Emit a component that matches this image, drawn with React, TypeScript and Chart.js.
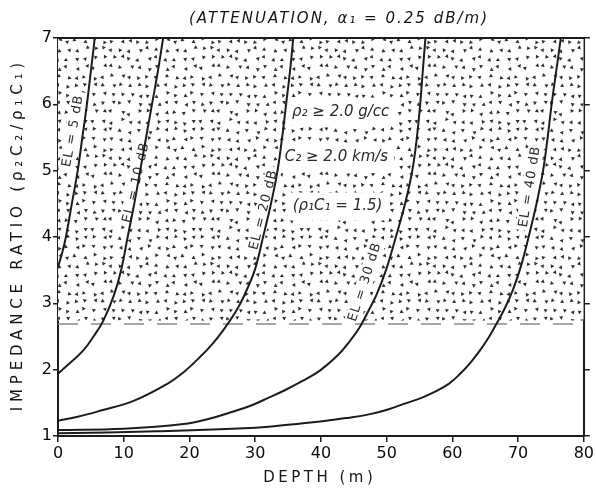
import { useEffect, useRef } from 'react';
import { Chart, registerables } from 'chart.js';

Chart.register(...registerables);

// ---- data ----
const depthTicks = [0, 10, 20, 30, 40, 50, 60, 70, 80];
const ratioTicks = [1, 2, 3, 4, 5, 6, 7];

const el5Depth = [0, 0.6, 1.2, 2.1, 3.0, 3.7, 4.4, 5.0, 5.6];
const el5Ratio = [3.55, 3.75, 4.0, 4.5, 5.0, 5.5, 6.0, 6.5, 7.0];

const el10Depth = [0, 1.6, 3.85, 5.4, 6.9, 8.5, 9.6, 10.6, 11.6, 12.5, 13.4, 14.3, 15.2, 16.0];
const el10Ratio = [1.94, 2.08, 2.29, 2.5, 2.74, 3.12, 3.5, 4.0, 4.5, 5.0, 5.5, 6.0, 6.5, 7.0];

const el20Depth = [0, 3, 6.4, 11.5, 16.5, 19.2, 21.6, 23.5, 25.1, 26.5, 27.7, 28.8, 30.0, 31.2, 32.4, 33.4, 34.1, 34.7, 35.3, 35.8];
const el20Ratio = [1.23, 1.29, 1.38, 1.53, 1.78, 1.97, 2.19, 2.39, 2.59, 2.79, 2.99, 3.22, 3.52, 4.0, 4.5, 5.0, 5.5, 6.0, 6.5, 7.0];

const el30Depth = [0, 10, 19.1, 23, 26.7, 29.4, 31.9, 34.5, 37.2, 39.9, 42.6, 44.4, 45.9, 47.3, 48.5, 49.9, 51.4, 52.8, 53.9, 54.6, 55.1, 55.5, 55.9];
const el30Ratio = [1.09, 1.11, 1.18, 1.26, 1.37, 1.46, 1.57, 1.69, 1.83, 1.99, 2.22, 2.43, 2.64, 2.9, 3.14, 3.5, 4.0, 4.5, 5.0, 5.5, 6.0, 6.5, 7.0];

const el40Depth = [0, 15, 29.2, 35, 39.9, 43.8, 47.5, 50.2, 52.5, 55.2, 57.6, 59.5, 61.1, 62.7, 64.2, 65.5, 66.7, 68.0, 69.2, 70.4, 71.6, 72.8, 73.8, 74.5, 75.1, 75.8, 76.5];
const el40Ratio = [1.04, 1.07, 1.12, 1.17, 1.22, 1.27, 1.33, 1.4, 1.48, 1.57, 1.68, 1.79, 1.93, 2.1, 2.29, 2.48, 2.69, 2.93, 3.2, 3.55, 4.0, 4.5, 5.0, 5.5, 6.0, 6.5, 7.0];

const boundaryRatio = 2.69;
const stippleTop = 7;
const stippleBottom = 2.74;

const curveLabelText = ['EL = 5 dB', 'EL = 10 dB', 'EL = 20 dB', 'EL = 30 dB', 'EL = 40 dB'];
const curveLabelDepth = [2.3, 11.9, 31.3, 46.7, 71.8];
const curveLabelRatio = [5.6, 4.82, 4.41, 3.32, 4.76];
const curveLabelAngle = [-80, -77, -76, -72, -81];

const noteText = ['ρ₂ ≥ 2.0 g/cc', 'C₂ ≥ 2.0 km/s', '(ρ₁C₁ = 1.5)'];
const noteDepth = [35.6, 34.5, 35.7];
const noteRatio = [5.89, 5.2, 4.46];

const titleText = '(ATTENUATION, α₁ = 0.25 dB/m)';
const xTitleText = 'DEPTH (m)';
const yTitleText = 'IMPEDANCE RATIO (ρ₂C₂/ρ₁C₁)';

const FONT = '"DejaVu Sans", sans-serif';
const INK = '#1c1c1c';

const toPts = (xs: number[], ys: number[]) => xs.map((x, i) => ({ x, y: ys[i] }));

function hash(a: number, b: number) {
  const s = Math.sin(a * 12.9898 + b * 78.233) * 43758.5453;
  return s - Math.floor(s);
}

function makeStipple(): CanvasPattern | string {
  const S = 108;
  const step = 9;
  const c = document.createElement('canvas');
  c.width = S;
  c.height = S;
  const g = c.getContext('2d');
  if (!g) return 'rgba(0,0,0,0.1)';
  g.fillStyle = '#ffffff';
  g.fillRect(0, 0, S, S);
  g.fillStyle = '#2e2e2e';
  for (let i = 0; i < S / step; i++) {
    for (let j = 0; j < S / step; j++) {
      const cx = i * step + 2.3 + hash(i, j) * 4.5;
      const cy = j * step + 2.3 + hash(j + 7, i + 3) * 4.5;
      const a = hash(i + 11, j + 5) * Math.PI * 2;
      const r = 2.3;
      g.beginPath();
      for (let k = 0; k < 3; k++) {
        const ang = a + (k * 2 * Math.PI) / 3;
        const px = cx + r * Math.cos(ang);
        const py = cy + r * Math.sin(ang);
        if (k === 0) g.moveTo(px, py);
        else g.lineTo(px, py);
      }
      g.closePath();
      g.fill();
    }
  }
  return g.createPattern(c, 'repeat') || 'rgba(0,0,0,0.1)';
}

function drawSpaced(ctx: CanvasRenderingContext2D, text: string, cx: number, cy: number, target: number) {
  (ctx as any).letterSpacing = '0px';
  const w = ctx.measureText(text).width;
  const sp = Math.max(0, (target - w) / text.length);
  (ctx as any).letterSpacing = sp.toFixed(2) + 'px';
  ctx.textAlign = 'center';
  ctx.textBaseline = 'middle';
  ctx.fillText(text, cx + sp / 2, cy);
  (ctx as any).letterSpacing = '0px';
}

export default function App() {
  const ref = useRef<HTMLCanvasElement | null>(null);

  useEffect(() => {
    const canvas = ref.current;
    if (!canvas) return;
    const stipple = makeStipple();

    const curveDs = (xs: number[], ys: number[]) => ({
      data: toPts(xs, ys),
      borderColor: INK,
      borderWidth: 2,
      pointRadius: 0,
      fill: false,
      tension: 0.4,
    });

    const datasets: any[] = [
      curveDs(el5Depth, el5Ratio),
      curveDs(el10Depth, el10Ratio),
      curveDs(el20Depth, el20Ratio),
      curveDs(el30Depth, el30Ratio),
      curveDs(el40Depth, el40Ratio),
      {
        data: [
          { x: 0, y: boundaryRatio },
          { x: 80, y: boundaryRatio },
        ],
        borderColor: '#8a8a8a',
        borderWidth: 1.5,
        borderDash: [20, 13],
        pointRadius: 0,
        fill: false,
      },
      {
        data: [
          { x: 0, y: stippleTop },
          { x: 80, y: stippleTop },
        ],
        borderWidth: 0,
        borderColor: 'rgba(0,0,0,0)',
        backgroundColor: stipple,
        pointRadius: 0,
        fill: { value: stippleBottom },
      },
    ];
    const STIPPLE_INDEX = datasets.length - 1;

    const decor = {
      id: 'decor',
      afterDatasetDraw(chart: any, args: any) {
        if (args.index !== STIPPLE_INDEX) return;
        const ctx: CanvasRenderingContext2D = chart.ctx;
        const xs = chart.scales.x;
        const ys = chart.scales.y;
        ctx.save();
        ctx.font = `italic 15px ${FONT}`;
        ctx.textBaseline = 'middle';
        ctx.textAlign = 'left';
        noteText.forEach((t, i) => {
          const px = xs.getPixelForValue(noteDepth[i]);
          const py = ys.getPixelForValue(noteRatio[i]);
          const w = ctx.measureText(t).width;
          ctx.fillStyle = '#ffffff';
          ctx.fillRect(px - 6, py - 14, w + 12, 28);
          ctx.fillStyle = '#2a2a2a';
          ctx.fillText(t, px, py);
        });
        ctx.font = `13px ${FONT}`;
        curveLabelText.forEach((t, i) => {
          const px = xs.getPixelForValue(curveLabelDepth[i]);
          const py = ys.getPixelForValue(curveLabelRatio[i]);
          ctx.save();
          ctx.translate(px, py);
          ctx.rotate((curveLabelAngle[i] * Math.PI) / 180);
          (ctx as any).letterSpacing = '1px';
          const w = ctx.measureText(t).width;
          ctx.fillStyle = '#ffffff';
          ctx.fillRect(-w / 2 - 3, -8, w + 6, 16);
          ctx.fillStyle = '#2a2a2a';
          ctx.textAlign = 'center';
          ctx.textBaseline = 'middle';
          ctx.fillText(t, 0, 0);
          ctx.restore();
        });
        ctx.restore();
      },
      afterDraw(chart: any) {
        const ctx: CanvasRenderingContext2D = chart.ctx;
        const a = chart.chartArea;
        ctx.save();
        ctx.strokeStyle = INK;
        ctx.lineWidth = 2;
        ctx.beginPath();
        ctx.moveTo(a.left - 1, a.top);
        ctx.lineTo(a.right + 1, a.top);
        ctx.stroke();
        ctx.fillStyle = '#141414';
        ctx.font = `italic 15px ${FONT}`;
        drawSpaced(ctx, titleText, 338, 19, 300);
        ctx.font = `15px ${FONT}`;
        drawSpaced(ctx, xTitleText, 318, 478, 113);
        ctx.save();
        ctx.translate(18, 237);
        ctx.rotate(-Math.PI / 2);
        ctx.font = `15px ${FONT}`;
        drawSpaced(ctx, yTitleText, 0, 0, 353);
        ctx.restore();
        ctx.restore();
      },
    };

    const gridOpts = {
      drawOnChartArea: false,
      drawTicks: true,
      tickLength: 6,
      color: INK,
      lineWidth: 1.5,
    };
    const borderOpts = { display: true, color: INK, width: 2 };
    const tickFont = { family: FONT, size: 16 };

    const chart = new Chart(canvas, {
      type: 'line',
      data: { datasets },
      options: {
        animation: false,
        responsive: false,
        events: [],
        layout: { padding: { top: 38, left: 0, right: 0, bottom: 0 } },
        plugins: {
          legend: { display: false },
          tooltip: { enabled: false },
          title: { display: false },
        },
        scales: {
          x: {
            type: 'linear',
            min: 0,
            max: 80,
            afterBuildTicks: (s: any) => {
              s.ticks = depthTicks.map((v) => ({ value: v }));
            },
            ticks: { font: tickFont, color: '#0a0a0a', padding: 2, maxRotation: 0, autoSkip: false },
            grid: gridOpts,
            border: borderOpts,
            afterFit: (s: any) => {
              s.height = 54;
            },
          },
          y: {
            type: 'linear',
            min: 1,
            max: 7,
            afterBuildTicks: (s: any) => {
              s.ticks = ratioTicks.map((v) => ({ value: v }));
            },
            ticks: { font: tickFont, color: '#0a0a0a', padding: 1, autoSkip: false },
            grid: { ...gridOpts, tickLength: 5 },
            border: borderOpts,
            afterFit: (s: any) => {
              s.width = 58;
            },
          },
          y2: {
            type: 'linear',
            position: 'right',
            min: 1,
            max: 7,
            afterBuildTicks: (s: any) => {
              s.ticks = ratioTicks.map((v) => ({ value: v }));
            },
            ticks: { display: false },
            grid: { ...gridOpts, tickLength: 6 },
            border: borderOpts,
            afterFit: (s: any) => {
              s.width = 11;
            },
          },
        },
      } as any,
      plugins: [decor],
    });

    return () => chart.destroy();
  }, []);

  return (
    <div style={{ position: 'fixed', left: 0, top: 0, width: 596, height: 490, background: '#fff' }}>
      <canvas ref={ref} width={596} height={490} style={{ width: 596, height: 490, display: 'block' }} />
    </div>
  );
}
